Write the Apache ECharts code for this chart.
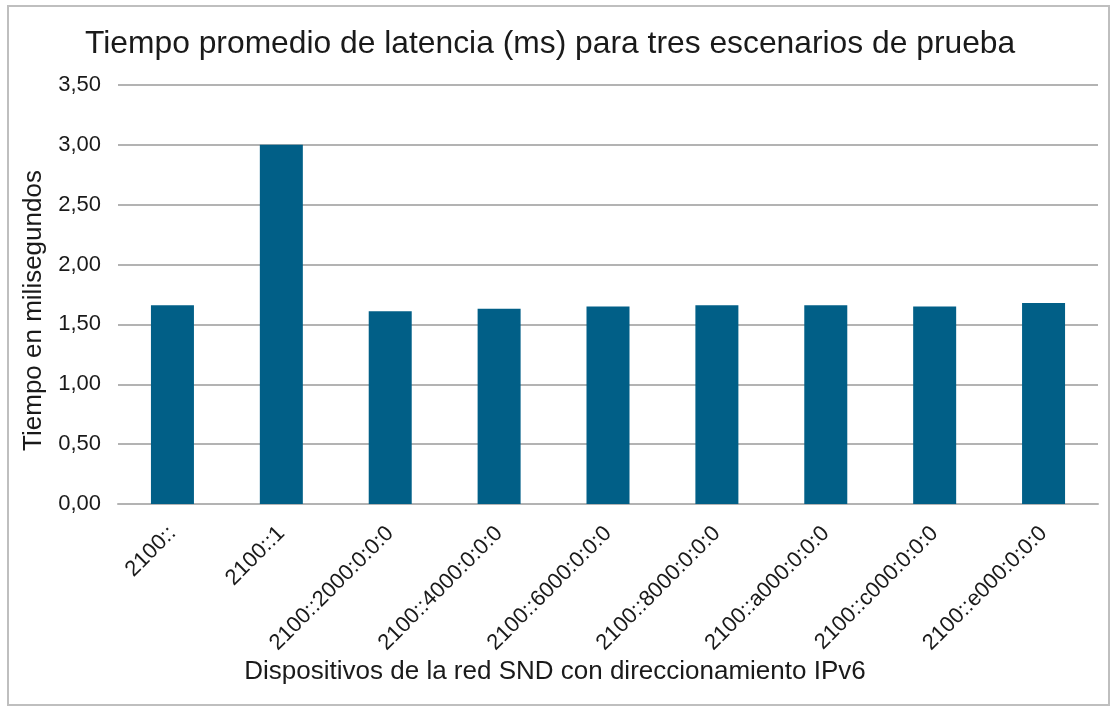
<!DOCTYPE html>
<html>
<head>
<meta charset="utf-8">
<script src="https://cdn.jsdelivr.net/npm/echarts@6/dist/echarts.min.js"></script>
<style>
  html, body { margin: 0; padding: 0; background: #fff; }
  #container { width: 1117px; height: 711px; }
</style>
</head>
<body>
<div id="container"></div>
<script>
// categorias (dispositivos)
var dispositivos = ['2100::', '2100::1', '2100::2000:0:0:0', '2100::4000:0:0:0', '2100::6000:0:0:0',
    '2100::8000:0:0:0', '2100::a000:0:0:0', '2100::c000:0:0:0', '2100::e000:0:0:0'];
// latencia promedio en ms
var latencia = [1.66, 3.00, 1.61, 1.63, 1.65, 1.66, 1.66, 1.65, 1.68];
var yTicks = { min: 0, max: 3.5, interval: 0.5 };

var dom = document.getElementById('container');
var myChart = echarts.init(dom);
var fuente = 'Liberation Sans, Arial, sans-serif';

var option = {
    animation: false,
    backgroundColor: '#fff',
    title: {
        text: 'Tiempo promedio de latencia (ms) para tres escenarios de prueba',
        left: 80,
        top: 23,
        textStyle: { fontFamily: fuente, fontSize: 31.8, fontWeight: 'normal', color: '#1a1a1a' }
    },
    graphic: [
        {
            type: 'rect',
            shape: { x: 8, y: 6, width: 1101, height: 699 },
            style: { fill: 'none', stroke: '#bfbfbf', lineWidth: 2 },
            silent: true
        }
    ],
    grid: { left: 118, right: 19, top: 85, bottom: 207 },
    xAxis: {
        type: 'category',
        data: dispositivos,
        name: 'Dispositivos de la red SND con direccionamiento IPv6',
        nameLocation: 'middle',
        nameGap: 155,
        nameMoveOverlap: false,
        nameTextStyle: { fontFamily: fuente, fontSize: 26, color: '#1a1a1a', padding: [0, 106, 0, 0] },
        axisLine: { lineStyle: { color: '#b3b3b3', width: 2 } },
        axisTick: { show: false },
        axisLabel: {
            rotate: 45,
            interval: 0,
            margin: 26,
            fontFamily: fuente,
            fontSize: 22,
            color: '#1a1a1a'
        }
    },
    yAxis: {
        type: 'value',
        min: yTicks.min,
        max: yTicks.max,
        interval: yTicks.interval,
        name: 'Tiempo en milisegundos',
        nameLocation: 'middle',
        nameGap: 70,
        nameTextStyle: { fontFamily: fuente, fontSize: 26, color: '#1a1a1a', padding: [0, 32, 0, 0] },
        axisLine: { show: false },
        axisTick: { show: false },
        splitLine: { lineStyle: { color: '#b3b3b3', width: 2 } },
        axisLabel: {
            margin: 17,
            fontFamily: fuente,
            fontSize: 22,
            color: '#1a1a1a',
            formatter: function (v) { return v.toFixed(2).replace('.', ','); }
        }
    },
    series: [
        {
            name: 'Latencia',
            type: 'bar',
            data: latencia,
            barWidth: 43,
            itemStyle: { color: '#015f87' }
        }
    ]
};
myChart.setOption(option, true);
</script>
</body>
</html>
